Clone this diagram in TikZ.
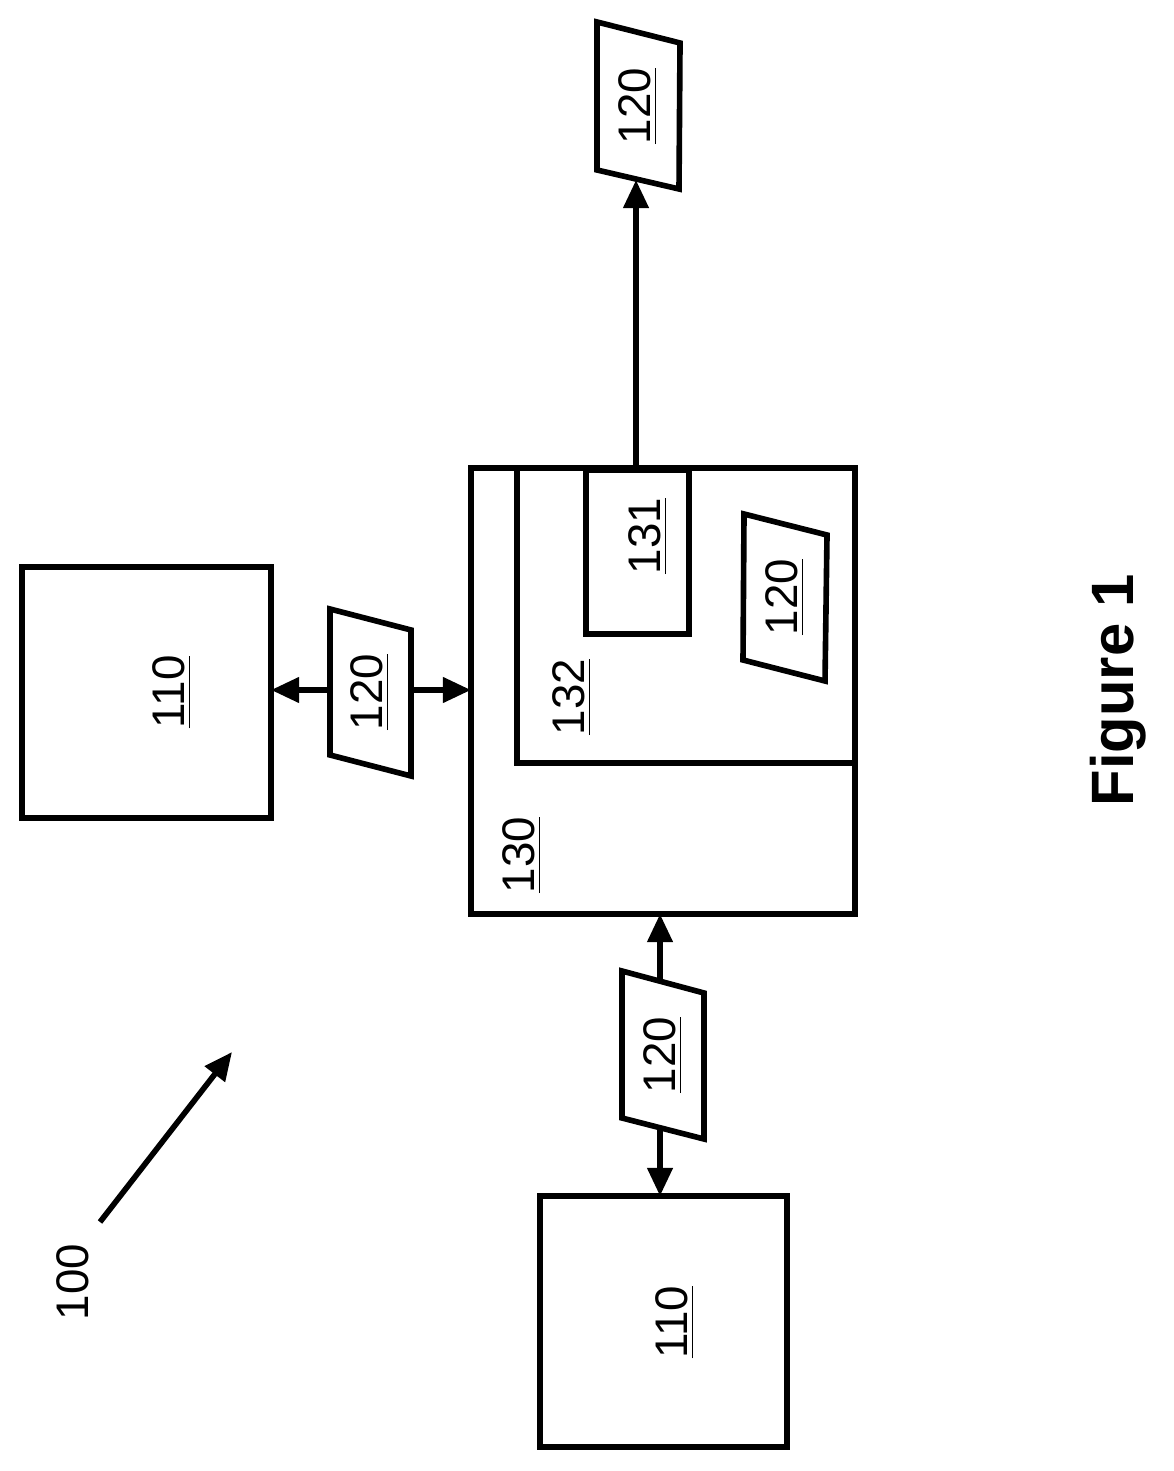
\documentclass[tikz,border=0pt]{standalone}
\usepackage{fontspec}
\setmainfont{Liberation Sans}
\usetikzlibrary{arrows.meta}
\begin{document}
\begin{tikzpicture}[x=0.01cm,y=-0.01cm,
  box/.style={draw,line width=1.6pt},
  lab/.style={rotate=90,font=\fontsize{13}{15}\selectfont,inner sep=0pt},
  arr/.style={line width=1.6pt,-{Triangle[length=8pt,width=7pt]}}]
\useasboundingbox (0,0) rectangle (1174,1471);
% boxes
\draw[box] (22,567) rectangle (271,818);
\node[lab] (t110a) at (172,692) {\underline{110}};
\draw[box] (540,1196) rectangle (787,1447);
\node[lab] (t110b) at (675,1322) {\underline{110}};
\draw[box] (471,468) rectangle (855,914);
\node[lab] (t130) at (522,855) {\underline{130}};
\draw[box] (517,468) rectangle (855,763);
\node[lab] (t132) at (572,697) {\underline{132}};
\draw[box] (586,470) rectangle (689,634);
\node[lab] (t131) at (648,536) {\underline{131}};
% parallelograms
\draw[box] (597,22) -- (680,43) -- (679,189) -- (597,170) -- cycle;
\node[lab] (p1) at (638,106) {\underline{120}};
\draw[box] (744,514) -- (827,535) -- (825,681) -- (743,660) -- cycle;
\node[lab] (p2) at (785,597) {\underline{120}};
\draw[box] (330,609) -- (411,630) -- (411,776) -- (330,755) -- cycle;
\node[lab] (p3) at (370,692) {\underline{120}};
\draw[box] (622,971) -- (704,993) -- (704,1139) -- (622,1118) -- cycle;
\node[lab] (p4) at (663,1055) {\underline{120}};
% arrows
\draw[arr] (330,690) -- (271,690);
\draw[arr] (411,690) -- (471,690);
\draw[arr] (660,980) -- (660,914);
\draw[arr] (660,1128) -- (660,1196);
\draw[arr] (636,470) -- (636,180);
\draw[arr] (100,1222) -- (232,1052);
\node[lab] (t100) at (73,1282) {100};
\node[rotate=90,font=\bfseries\fontsize{17}{20}\selectfont,inner sep=0pt] (fig) at (1118,690) {Figure 1};
\end{tikzpicture}
\end{document}
